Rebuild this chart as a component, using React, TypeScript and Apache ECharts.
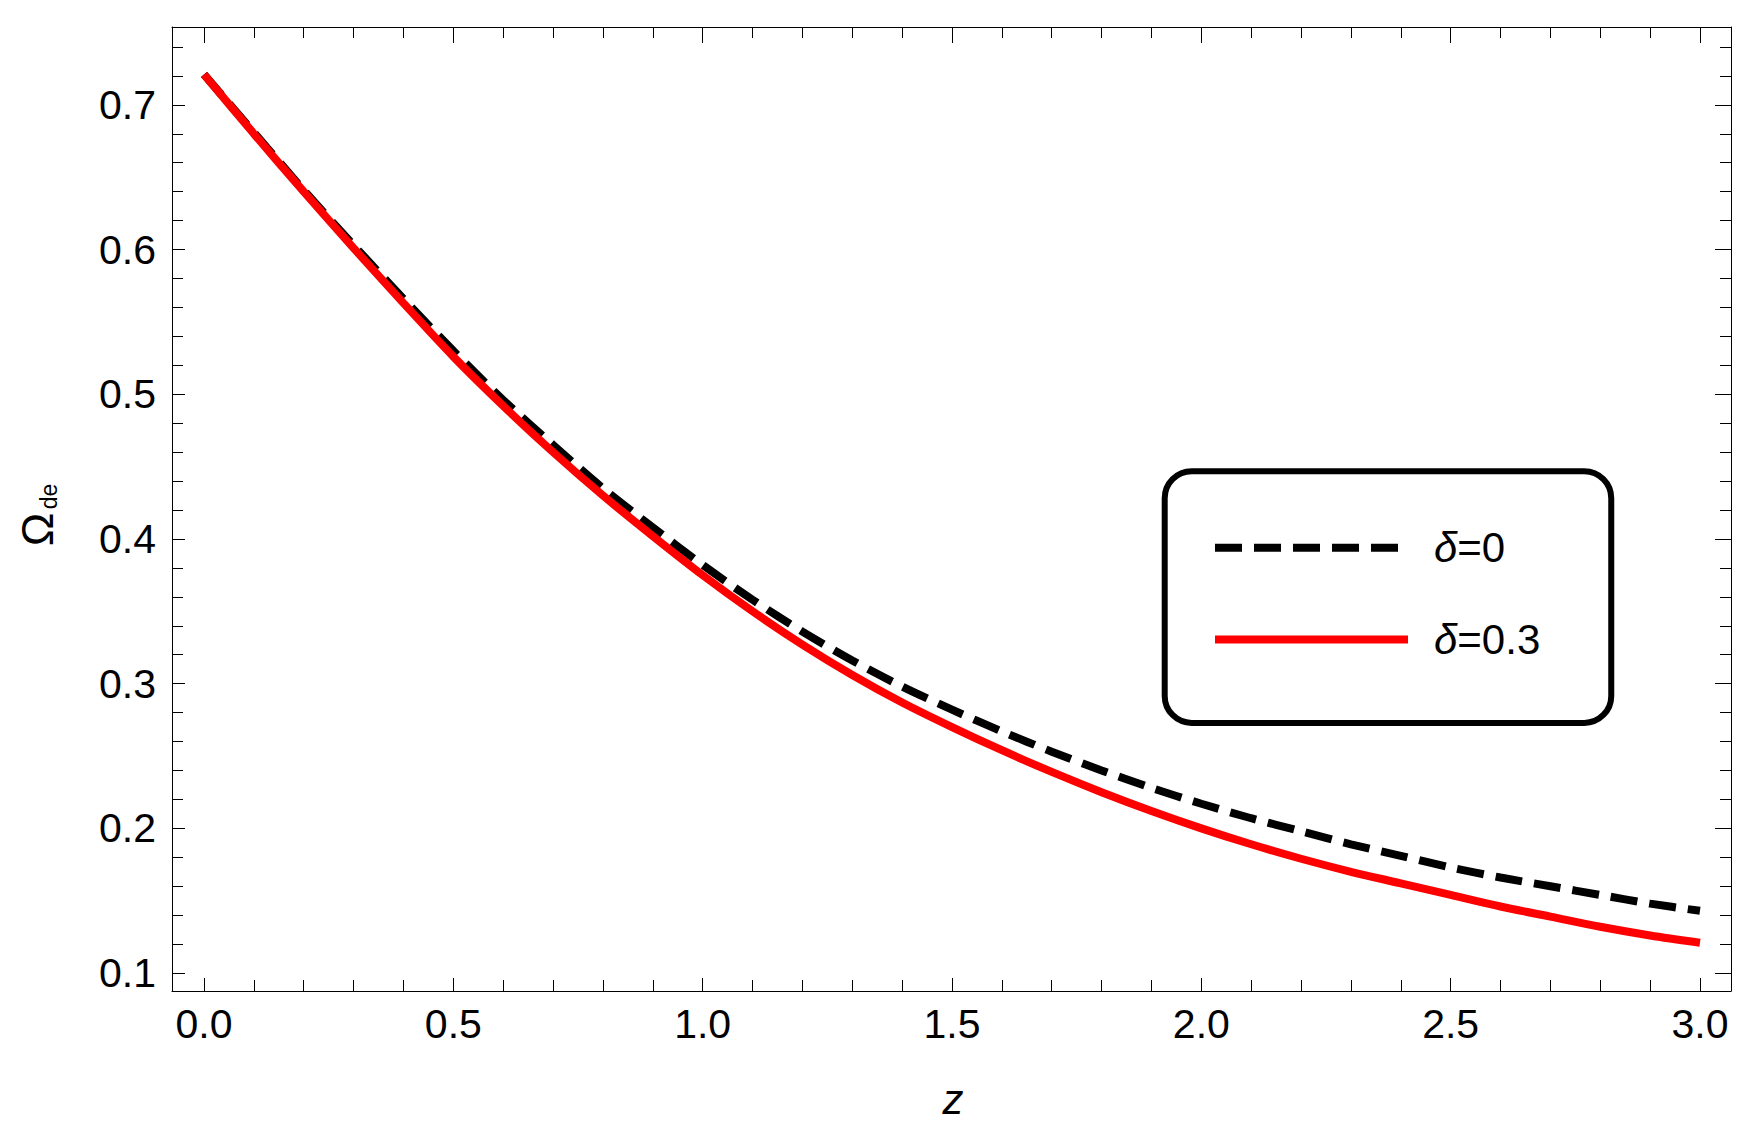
import React, { useEffect, useRef } from "react";
import * as echarts from "echarts";

const zValues = [
  0.0, 0.1, 0.2, 0.3, 0.4, 0.5, 0.6, 0.7, 0.8, 0.9, 1.0,
  1.1, 1.2, 1.3, 1.4, 1.5, 1.6, 1.7, 1.8, 1.9, 2.0,
  2.1, 2.2, 2.3, 2.4, 2.5, 2.6, 2.7, 2.8, 2.9, 3.0,
];

const omegaDelta0 = [
  0.721, 0.681, 0.641, 0.603, 0.566, 0.530, 0.496, 0.465, 0.435, 0.408, 0.382,
  0.358, 0.336, 0.316, 0.298, 0.282, 0.267, 0.253, 0.240, 0.228, 0.217,
  0.207, 0.198, 0.189, 0.181, 0.173, 0.166, 0.160, 0.154, 0.148, 0.143,
];

const omegaDelta03 = [
  0.721, 0.680, 0.640, 0.601, 0.563, 0.526, 0.492, 0.460, 0.430, 0.402, 0.375,
  0.350, 0.327, 0.306, 0.287, 0.270, 0.254, 0.239, 0.225, 0.212, 0.200,
  0.189, 0.179, 0.170, 0.162, 0.154, 0.146, 0.139, 0.132, 0.126, 0.121,
];

const seriesNames = ["δ=0", "δ=0.3"];
const xLabel = "z";
const yLabelMain = "Ω";
const yLabelSub = "de";

const FONT = "Liberation Sans";

export default function App() {
  const ref = useRef<HTMLDivElement>(null);

  useEffect(() => {
    if (!ref.current) return;
    const chart = echarts.init(ref.current, null, { renderer: "svg" });

    const pairs = (ys: number[]) => zValues.map((z, i) => [z, ys[i]]);
    const fmt = (v: number) => v.toFixed(1);

    const baseX = {
      type: "value",
      min: -0.0642,
      max: 3.0622,
      splitNumber: 6,
      minInterval: 0.5,
      maxInterval: 0.5,
      splitLine: { show: false },
      axisLine: { show: true, onZero: false, lineStyle: { color: "#000", width: 1 } },
      minorTick: { show: true, splitNumber: 5, length: 11, lineStyle: { color: "#000", width: 1 } },
    };
    const baseY = {
      type: "value",
      min: 0.0876,
      max: 0.7538,
      splitNumber: 6,
      minInterval: 0.1,
      maxInterval: 0.1,
      splitLine: { show: false },
      axisLine: { show: true, onZero: false, lineStyle: { color: "#000", width: 1 } },
      minorTick: { show: true, splitNumber: 5, length: 11, lineStyle: { color: "#000", width: 1 } },
    };

    chart.setOption({
      animation: false,
      backgroundColor: "#ffffff",
      grid: { left: 172, top: 27, width: 1559, height: 964, containLabel: false },
      xAxis: [
        {
          ...baseX,
          position: "bottom",
          axisTick: { show: true, inside: true, length: 13, lineStyle: { color: "#000", width: 1 } },
          axisLabel: {
            show: true,
            margin: 12,
            formatter: fmt,
            showMinLabel: false,
            showMaxLabel: false,
            color: "#000",
            fontSize: 41,
            fontFamily: FONT,
          },
        },
        {
          ...baseX,
          position: "top",
          axisTick: { show: true, inside: true, length: 16, lineStyle: { color: "#000", width: 1 } },
          axisLabel: { show: false },
        },
      ],
      yAxis: [
        {
          ...baseY,
          position: "left",
          axisTick: { show: true, inside: true, length: 13, lineStyle: { color: "#000", width: 1 } },
          axisLabel: {
            show: true,
            margin: 16,
            formatter: fmt,
            showMinLabel: false,
            showMaxLabel: false,
            color: "#000",
            fontSize: 41,
            fontFamily: FONT,
          },
        },
        {
          ...baseY,
          position: "right",
          axisTick: { show: true, inside: true, length: 16, lineStyle: { color: "#000", width: 1 } },
          axisLabel: { show: false },
        },
      ],
      legend: {
        show: true,
        orient: "vertical",
        left: 1164.7,
        top: 471.3,
        padding: [51.5, 71, 58.5, 46.3],
        itemGap: 41.6,
        itemWidth: 193,
        itemHeight: 14,
        borderColor: "#000",
        borderWidth: 6,
        borderRadius: 27,
        backgroundColor: "#fff",
        lineStyle: { width: 8 },
        itemStyle: { opacity: 0, borderWidth: 0 },
        data: seriesNames,
        formatter: (name: string) => `{i|δ}{r|${name.slice(1)}}`,
        textStyle: {
          color: "#000",
          fontSize: 42,
          fontFamily: FONT,
          lineHeight: 50,
          padding: [0, 0, 0, 21],
          rich: {
            i: { fontStyle: "italic", fontSize: 42, fontFamily: FONT, color: "#000", lineHeight: 50 },
            r: { fontSize: 42, fontFamily: FONT, color: "#000", lineHeight: 50 },
          },
        },
      },
      graphic: [
        {
          type: "text",
          x: 953,
          y: 1099,
          style: {
            text: xLabel,
            fontSize: 42,
            fontStyle: "italic",
            fontFamily: FONT,
            fill: "#000",
            align: "center",
            verticalAlign: "middle",
          },
        },
        {
          type: "text",
          x: 37,
          y: 529.5,
          rotation: Math.PI / 2,
          style: {
            text: yLabelMain,
            fontSize: 45,
            fontFamily: FONT,
            fill: "#000",
            align: "center",
            verticalAlign: "middle",
          },
        },
        {
          type: "text",
          x: 48.7,
          y: 496.5,
          rotation: Math.PI / 2,
          style: {
            text: yLabelSub,
            fontSize: 23,
            fontFamily: FONT,
            fill: "#000",
            align: "center",
            verticalAlign: "middle",
          },
        },
      ],
      series: [
        {
          name: seriesNames[0],
          type: "line",
          xAxisIndex: 0,
          yAxisIndex: 0,
          data: pairs(omegaDelta0),
          showSymbol: false,
          symbol: "none",
          smooth: 0.3,
          lineStyle: { color: "#000", width: 8, type: [27, 12], cap: "butt" },
          itemStyle: { color: "#000" },
          z: 2,
        },
        {
          name: seriesNames[1],
          type: "line",
          xAxisIndex: 0,
          yAxisIndex: 0,
          data: pairs(omegaDelta03),
          showSymbol: false,
          symbol: "none",
          smooth: 0.3,
          lineStyle: { color: "#ff0000", width: 8, type: "solid", cap: "butt" },
          itemStyle: { color: "#ff0000" },
          z: 3,
        },
      ],
    });

    return () => chart.dispose();
  }, []);

  return (
    <div
      ref={ref}
      style={{
        position: "fixed",
        left: 0,
        top: 0,
        width: 1762,
        height: 1133,
        background: "#fff",
      }}
    />
  );
}
